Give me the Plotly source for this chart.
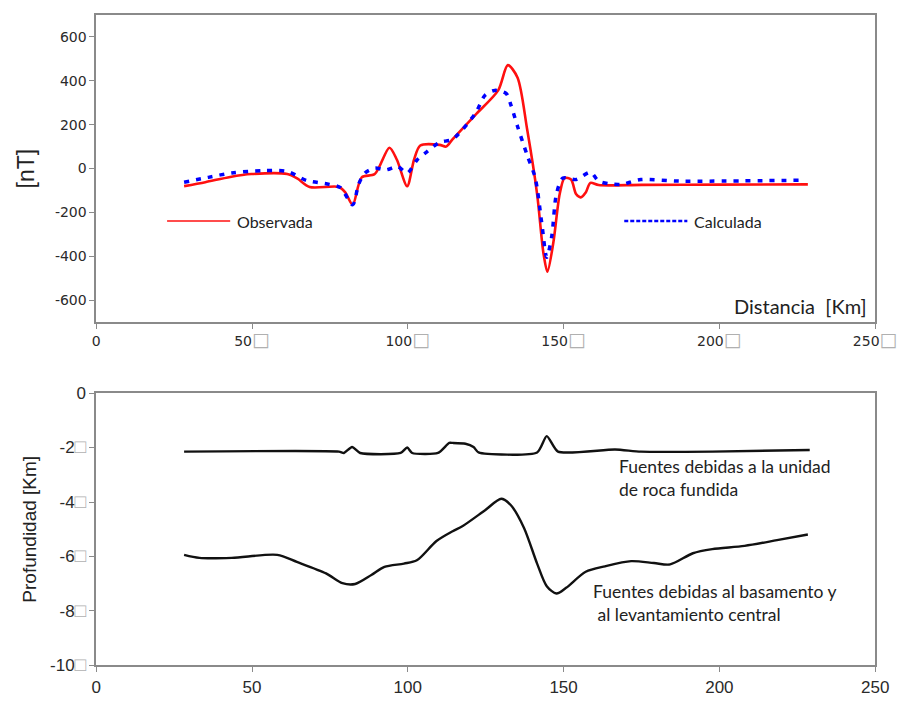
import plotly.graph_objects as go

# --- Top panel: magnetic anomaly (nT) ---
obs_x = [28.2, 35, 43, 49.8, 61.3, 64.5, 68.5, 77.9, 80, 82.3, 85.2, 89.4, 94.1, 96.5, 99.8, 102, 104, 110.2, 112.3, 114.4,
         121.7, 129, 132.1, 135.2, 138.3, 141.5, 143.5, 144.8, 146.7, 148.75, 150.3, 152.4, 154, 155.5, 157.1, 158.6,
         161.25, 175, 200, 228.4]
obs_y = [-80, -62, -38, -25, -25, -45, -84, -84, -110, -165, -40, -25, 95, 40, -80, 40, 105, 108, 100, 134,
         245, 356, 471, 415, 179, -116, -382, -470, -338, -116, -43, -50, -116, -131, -109, -65,
         -75, -74, -73, -72]

cal_x = [28.2, 36, 43.5, 54, 61.3, 67.5, 74.8, 78.4, 82.3, 84.2, 86.25, 89.4, 93, 96.7, 99.8, 102.9, 106, 110.2, 114.4,
         121.7, 124.8, 127.9, 131.6, 133.1, 135.2, 138.3, 140.9, 143, 144.6, 146.2, 147.7, 149.8, 154, 158.6,
         161.25, 164.4, 168.5, 174.8, 187.3, 226.3]
cal_y = [-62, -40, -20, -9, -13, -54, -72, -87, -165, -72, -20, 2, -6, 9, -20, 38, 75, 119, 134,
         252, 334, 356, 341, 289, 193, 61, -43, -249, -404, -308, -116, -43, -50, -17,
         -57, -69, -72, -50, -57, -53]

# --- Bottom panel: depth (km) ---
roca_x = [28.2, 77.9, 79.5, 82.1, 84.7, 97.7, 99.8, 101.4, 109.7, 113.3, 114.4, 118.5, 121.1, 122.7, 141.5, 144.6,
          148.2, 166.5, 174.8, 197.7, 229]
roca_y = [-2.15, -2.15, -2.2, -1.98, -2.2, -2.2, -2.0, -2.2, -2.2, -1.83, -1.83, -1.86, -1.98, -2.18, -2.18, -1.58,
          -2.15, -2.07, -2.15, -2.15, -2.09]

base_x = [28.2, 33.1, 43.5, 58.1, 64.4, 73.75, 79, 83.1, 88.3, 92.5, 98.75, 102.9, 109.2, 114.4, 117.5, 124.8, 130,
          133.1, 137.3, 141.5, 144.6, 147.7, 150.8, 157.1, 163.3, 171.7, 179, 184.2, 191.5, 197.7, 208.1, 218.5, 228.4]
base_y = [-5.94, -6.05, -6.05, -5.94, -6.2, -6.62, -6.98, -7.01, -6.68, -6.38, -6.26, -6.14, -5.43, -5.07, -4.89, -4.3,
          -3.88, -4.12, -4.95, -6.26, -7.09, -7.36, -7.15, -6.56, -6.36, -6.17, -6.24, -6.29, -5.88, -5.73, -5.61, -5.4,
          -5.19]

BOX = "<span style='font-size:19px;color:#b0b0b0'>\u25a1</span>"
top_xticks = [0, 50, 100, 150, 200, 250]
top_xlabels = ["0", "50" + BOX, "100" + BOX, "150" + BOX, "200" + BOX, "250" + BOX]
top_yticks = [-600, -400, -200, 0, 200, 400, 600]
top_ylabels = ["-600", "-400", "-200", "0", "200", "400", "600"]
bot_xticks = [0, 50, 100, 150, 200, 250]
bot_yticks = [0, -2, -4, -6, -8, -10]
bot_ylabels = ["0", "-2" + BOX, "-4" + BOX, "-6" + BOX, "-8" + BOX, "-10" + BOX]

fig = go.Figure()
fig.add_trace(go.Scatter(x=obs_x, y=obs_y, mode="lines", line=dict(color="#ff1010", width=2.6, shape="spline", smoothing=0.8),
                         name="Observada", xaxis="x", yaxis="y"))
fig.add_trace(go.Scatter(x=cal_x, y=cal_y, mode="lines", line=dict(color="#0000ff", width=3.5, dash="5px,7px", shape="spline", smoothing=0.8),
                         name="Calculada", xaxis="x", yaxis="y"))
fig.add_trace(go.Scatter(x=roca_x, y=roca_y, mode="lines", line=dict(color="#111111", width=2.4, shape="spline", smoothing=0.6),
                         name="roca", xaxis="x2", yaxis="y2"))
fig.add_trace(go.Scatter(x=base_x, y=base_y, mode="lines", line=dict(color="#111111", width=2.4, shape="spline", smoothing=0.8),
                         name="base", xaxis="x2", yaxis="y2"))

def axis_common(fam, size):
    return dict(showgrid=False, zeroline=False, showline=True, linecolor="#8a8a8a", linewidth=1.5, mirror=True,
                ticks="outside", ticklen=5, tickcolor="#8a8a8a", tickwidth=1.2,
                tickfont=dict(family=fam, size=size, color="#2a2a2a"))

top_ax = axis_common("DejaVu Sans", 14)
bot_ax = axis_common("Liberation Sans, Arial", 17)

dom_x = [94 / 919, 896.5 / 919]
fig.update_layout(
    width=919, height=704, margin=dict(l=0, r=0, t=0, b=0),
    paper_bgcolor="white", plot_bgcolor="white", showlegend=False,
    xaxis=dict(domain=dom_x, range=[0, 250], tickvals=top_xticks, ticktext=top_xlabels, anchor="y", **top_ax),
    yaxis=dict(domain=[1 - 322 / 704, 1 - 6 / 704], range=[-700, 700], tickvals=top_yticks, ticktext=top_ylabels,
               anchor="x",
               title=dict(text="[nT]", font=dict(family="Liberation Sans, Arial", size=23, color="#222222"), standoff=14),
               **top_ax),
    xaxis2=dict(domain=dom_x, range=[0, 250], tickvals=bot_xticks, anchor="y2", **bot_ax),
    yaxis2=dict(domain=[1 - 674.7 / 704, 1 - 394.7 / 704], range=[-10, 0], tickvals=bot_yticks, ticktext=bot_ylabels,
                anchor="x2",
                title=dict(text="Profundidad [Km]", font=dict(family="Liberation Sans, Arial", size=19, color="#222222"), standoff=8),
                **bot_ax),
)

txt_font = dict(family="Lato, Open Sans", size=16, color="#222222")
big_font = dict(family="Lato, Open Sans", size=17.5, color="#222222")
annotations = [
    dict(text="Distancia  [Km]", x=890 / 919, y=1 - 305 / 704, xref="paper", yref="paper", xanchor="right", yanchor="middle",
         showarrow=False, font=dict(family="Lato, Open Sans", size=20, color="#222222")),
    dict(text="Observada", x=237 / 919, y=1 - 218 / 704, xref="paper", yref="paper", xanchor="left", yanchor="middle",
         showarrow=False, font=txt_font),
    dict(text="Calculada", x=708 / 919, y=1 - 218 / 704, xref="paper", yref="paper", xanchor="left", yanchor="middle",
         showarrow=False, font=txt_font),
    dict(text="Fuentes debidas a la unidad<br>de roca fundida", x=631 / 919, y=1 - 482 / 704, xref="paper", yref="paper",
         xanchor="left", yanchor="middle", align="left", showarrow=False, font=big_font),
    dict(text="Fuentes debidas al basamento y<br> al levantamiento central", x=604 / 919, y=1 - 610 / 704, xref="paper",
         yref="paper", xanchor="left", yanchor="middle", align="left", showarrow=False, font=big_font),
]
fig.update_layout(annotations=annotations)

shapes = [
    dict(type="line", xref="paper", yref="paper", x0=167 / 919, x1=232 / 919, y0=1 - 218 / 704, y1=1 - 218 / 704,
         line=dict(color="#ff1010", width=1.5)),
    dict(type="line", xref="paper", yref="paper", x0=638 / 919, x1=703 / 919, y0=1 - 218 / 704, y1=1 - 218 / 704,
         line=dict(color="#0000ff", width=2.5, dash="4px,2px")),
]
fig.update_layout(shapes=shapes)

fig.write_html("out.html")
